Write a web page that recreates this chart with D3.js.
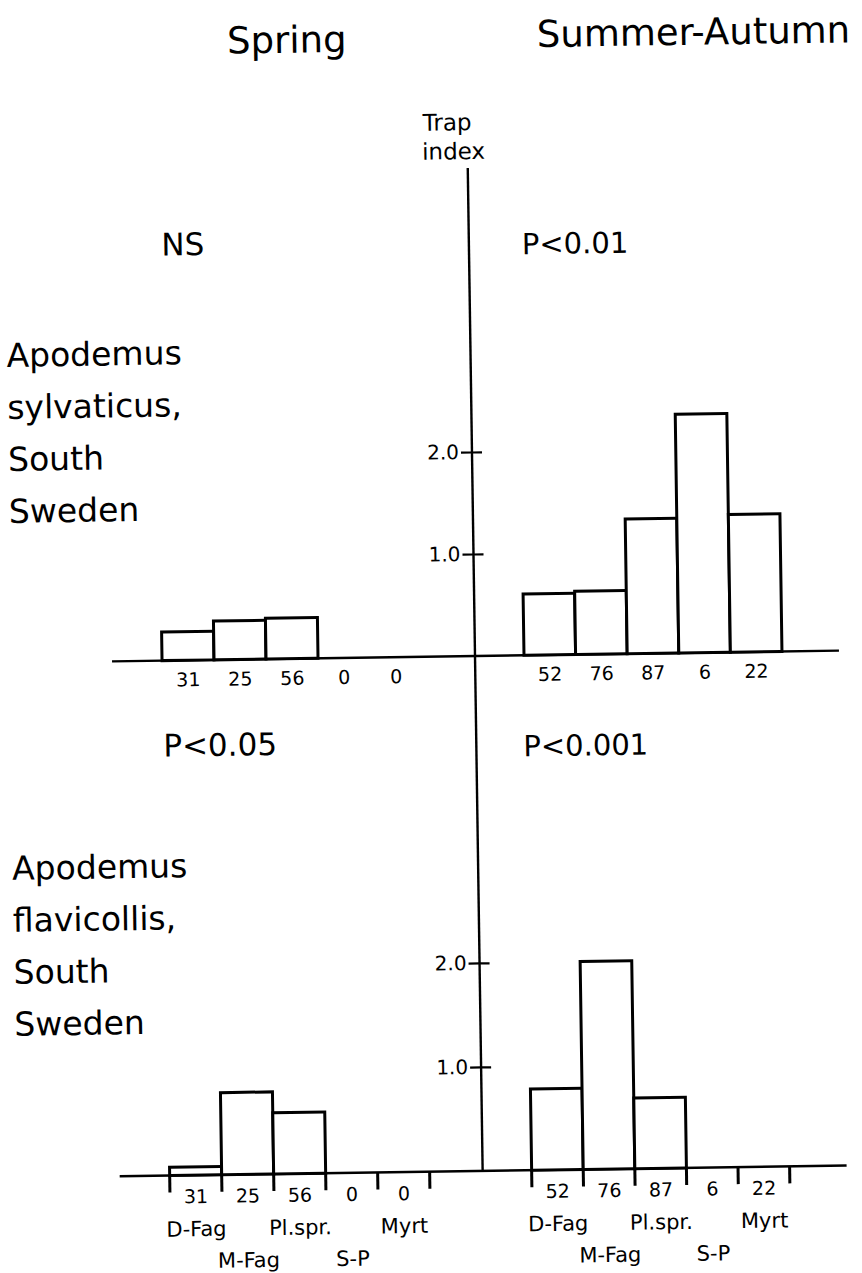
<!DOCTYPE html>
<html>
<head>
<meta charset="utf-8">
<script src="https://cdn.jsdelivr.net/npm/d3@7"></script>
<style>
  body { margin: 0; background: #fff; }
  svg { display: block; }
  text { font-family: "DejaVu Sans", sans-serif; fill: #000; }
</style>
</head>
<body>
<svg id="chart" width="862" height="1273"></svg>
<script>
// Habitat categories (same order in both seasons)
const categories = ["D-Fag", "M-Fag", "Pl.spr.", "S-P", "Myrt"];

// Number of trap stations per habitat, printed under the bars
const springStations = [31, 25, 56, 0, 0];
const summerStations = [52, 76, 87, 6, 22];

// Trap index, Apodemus sylvaticus
const sylvaticusSpring = [0.28, 0.38, 0.40, 0, 0];
const sylvaticusSummer = [0.60, 0.62, 1.32, 2.34, 1.35];

// Trap index, Apodemus flavicollis
const flavicollisSpring = [0.08, 0.79, 0.59, 0, 0];
const flavicollisSummer = [0.78, 2.00, 0.68, 0, 0];

// Trap index axis ticks
const indexTicks = [1.0, 2.0];

// Significance labels
const sigSylvaticus = ["NS", "P<0.01"];
const sigFlavicollis = ["P<0.05", "P<0.001"];

// Species labels
const speciesSylvaticus = ["Apodemus", "sylvaticus,", "South", "Sweden"];
const speciesFlavicollis = ["Apodemus", "flavicollis,", "South", "Sweden"];

const svg = d3.select("#chart");
svg.append("rect").attr("width", 862).attr("height", 1273).attr("fill", "#fff");

// the whole drawing sits slightly tilted on the page
const g = svg.append("g").attr("transform", "rotate(-0.85 474 656)");

const axisX = 475;
const xSpring = d3.scaleBand().domain(categories).range([162, 422]).padding(0);
const xSummer = d3.scaleBand().domain(categories).range([524, 782]).padding(0);

const panels = [
  { base: 656, unit: 102, spring: sylvaticusSpring, summer: sylvaticusSummer,
    countDy: 26, ticks: false, names: false },
  { base: 1171, unit: 104, spring: flavicollisSpring, summer: flavicollisSummer,
    countDy: 28, ticks: true, names: true }
];

// central vertical trap-index axis
g.append("line")
  .attr("x1", axisX).attr("x2", axisX)
  .attr("y1", 168).attr("y2", 1171)
  .attr("stroke", "#000").attr("stroke-width", 2.4);

panels.forEach(p => {
  const y = d3.scaleLinear().domain([0, 1]).range([p.base, p.base - p.unit]);

  // baseline
  g.append("line")
    .attr("x1", 112).attr("x2", 839)
    .attr("y1", p.base).attr("y2", p.base)
    .attr("stroke", "#000").attr("stroke-width", 2.4);

  // y axis ticks that cross the central axis
  const ax = g.append("g")
    .attr("transform", `translate(${axisX},0)`)
    .call(d3.axisLeft(y).tickValues(indexTicks).tickFormat(d3.format(".1f"))
      .tickSizeInner(11).tickSizeOuter(0).tickPadding(2));
  ax.select(".domain").remove();
  ax.selectAll(".tick line").attr("stroke", "#000").attr("stroke-width", 2.2);
  ax.selectAll(".tick").append("line")
    .attr("x1", 0).attr("x2", 10)
    .attr("stroke", "#000").attr("stroke-width", 2.2);
  ax.selectAll(".tick text")
    .attr("font-size", 20)
    .attr("font-family", "DejaVu Sans, sans-serif")
    .attr("fill", "#000");

  [[xSpring, p.spring, springStations], [xSummer, p.summer, summerStations]].forEach(([x, vals, stations]) => {
    const data = categories.map((c, i) => ({ c, v: vals[i], n: stations[i], i }));

    g.append("g").selectAll("rect")
      .data(data.filter(d => d.v > 0))
      .join("rect")
      .attr("x", d => x(d.c))
      .attr("width", x.bandwidth())
      .attr("y", d => y(d.v))
      .attr("height", d => y(0) - y(d.v))
      .attr("fill", "#fff")
      .attr("stroke", "#000")
      .attr("stroke-width", 3);

    g.append("g").selectAll("text")
      .data(data)
      .join("text")
      .attr("x", d => x(d.c) + x.bandwidth() / 2)
      .attr("y", p.base + p.countDy)
      .attr("text-anchor", "middle")
      .attr("font-size", 19)
      .text(d => d.n);

    if (p.ticks) {
      const edges = categories.map(c => x(c)).concat([x(categories[categories.length - 1]) + x.bandwidth()]);
      g.append("g").selectAll("line")
        .data(edges)
        .join("line")
        .attr("x1", d => d).attr("x2", d => d)
        .attr("y1", p.base).attr("y2", p.base + 17)
        .attr("stroke", "#000").attr("stroke-width", 3);
    }

    if (p.names) {
      g.append("g").selectAll("text")
        .data(data)
        .join("text")
        .attr("x", d => x(d.c) + x.bandwidth() / 2)
        .attr("y", d => p.base + (d.i % 2 === 0 ? 61 : 93))
        .attr("text-anchor", "middle")
        .attr("font-size", 21)
        .text(d => d.c);
    }
  });
});

// season headings and axis title
g.append("text").attr("x", 296).attr("y", 50).attr("text-anchor", "middle")
  .attr("font-size", 37).text("Spring");
g.append("text").attr("x", 546).attr("y", 48).attr("text-anchor", "start")
  .attr("font-size", 37).text("Summer-Autumn");
g.append("text").attr("x", 455).attr("y", 130).attr("text-anchor", "middle")
  .attr("font-size", 23).text("Trap");
g.append("text").attr("x", 461).attr("y", 159).attr("text-anchor", "middle")
  .attr("font-size", 23).text("index");

// significance levels
g.append("text").attr("x", 189).attr("y", 251).attr("text-anchor", "middle")
  .attr("font-size", 31).text(sigSylvaticus[0]);
g.append("text").attr("x", 528).attr("y", 255)
  .attr("font-size", 29).text(sigSylvaticus[1]);
g.append("text").attr("x", 162).attr("y", 752)
  .attr("font-size", 31).text(sigFlavicollis[0]);
g.append("text").attr("x", 522).attr("y", 757)
  .attr("font-size", 29).text(sigFlavicollis[1]);

// species names
const lineGap = 52;
g.append("g").selectAll("text").data(speciesSylvaticus).join("text")
  .attr("x", 11).attr("y", (d, i) => 360 + i * lineGap)
  .attr("font-size", 33).text(d => d);
g.append("g").selectAll("text").data(speciesFlavicollis).join("text")
  .attr("x", 9).attr("y", (d, i) => 873 + i * lineGap)
  .attr("font-size", 33).text(d => d);
</script>
</body>
</html>
